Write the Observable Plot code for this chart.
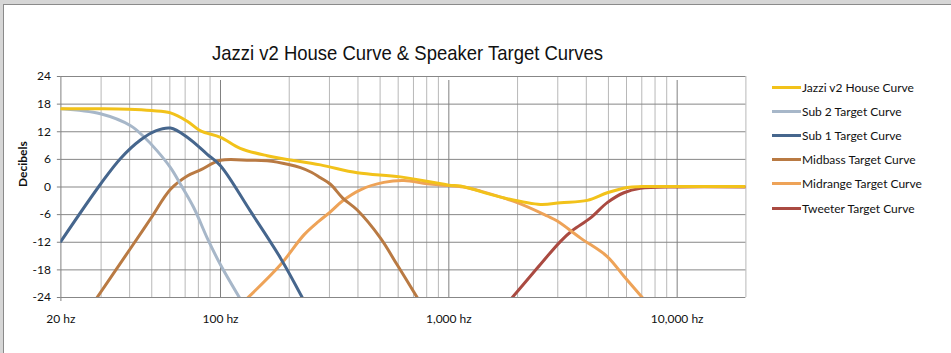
<!DOCTYPE html>
<html>
<head>
<meta charset="utf-8">
<script src="https://cdn.jsdelivr.net/npm/d3@7"></script>
<script src="https://cdn.jsdelivr.net/npm/@observablehq/plot@0.6"></script>
<style>
  html, body { margin: 0; padding: 0; background: #d6d6d6; }
  #panel { position: absolute; left: 3px; top: 4px; width: 948px; height: 349px; background: #fff;
           border-left: 1px solid #8a8a8a; border-top: 1px solid #8a8a8a; box-sizing: border-box; }
  #chart { position: absolute; left: 0; top: 0; }
  #title { position: absolute; left: 0; top: 41px; width: 815px; text-align: center;
           font-family: "Liberation Sans Narrow", "Liberation Sans", sans-serif; font-size: 21px; color: #111;
           transform: scaleX(0.88); transform-origin: 407.5px 0; }
  #legend { position: absolute; left: 772px; top: 75px; font-family: Lato, "Open Sans", sans-serif; font-size: 12px; color: #111; }
  .item { display: flex; align-items: center; height: 24.2px; }
  .swatch { width: 29px; height: 3px; margin-right: 1px; }
</style>
</head>
<body>
<div id="panel"></div>
<div id="chart"></div>
<div id="title">Jazzi v2 House Curve &amp; Speaker Target Curves</div>
<div id="legend"></div>
<script>
// Series names and colours
const seriesNames = ["Jazzi v2 House Curve", "Sub 2 Target Curve", "Sub 1 Target Curve",
  "Midbass Target Curve", "Midrange Target Curve", "Tweeter Target Curve"];
const seriesColors = ["#f2c21a", "#a7b7c9", "#46668d", "#b97a43", "#eea358", "#aa4a41"];

// Frequencies (Hz) and levels (dB)
const houseHz = [20, 30, 39.5, 50, 60.4, 71.5, 81.8, 100, 122, 160, 274, 397, 614, 1000, 1125, 1685, 2520, 3085, 4040, 4940, 6050, 7000, 10000, 20000];
const houseDb = [17, 17, 16.9, 16.6, 16.1, 14.3, 12.2, 10.8, 8.4, 6.8, 4.8, 3.1, 2.2, 0.4, 0.2, -2.2, -3.8, -3.4, -2.9, -1.25, -0.1, 0.1, 0.1, 0.1];

const sub2Hz = [20, 29.8, 40.4, 46.4, 52.8, 60.4, 66.8, 76.4, 87.5, 100, 121];
const sub2Db = [17, 15.9, 13.3, 10.8, 7.85, 4.2, 0.6, -4.5, -11.1, -16.9, -24];

const sub1Hz = [20, 29.8, 36.5, 44.6, 52, 60.4, 71.5, 87.5, 100, 135, 183, 228];
const sub1Db = [-11.8, 0.6, 6.2, 10.2, 12.2, 12.8, 10.8, 7.1, 4.6, -5.2, -15.4, -24];

const midbassHz = [28.8, 40.4, 49.4, 60.4, 71.5, 81.8, 100, 135, 160, 199, 224, 250, 274, 303, 343, 397, 502, 594, 727];
const midbassDb = [-24, -13.3, -6.9, -0.5, 2.4, 3.7, 5.8, 5.8, 5.7, 4.9, 4.2, 3.2, 2.0, 0.6, -2.4, -5.0, -11.1, -16.9, -24];

const midrangeHz = [132, 183, 232, 270, 303, 343, 410, 519, 636, 804, 1000, 1190, 1378, 1994, 2698, 2985, 3776, 4940, 5845, 7034];
const midrangeDb = [-24, -16.9, -10.4, -7.4, -5.4, -3.0, -0.6, 1.0, 1.4, 0.7, 0.3, -0.1, -0.9, -3.4, -6.3, -7.4, -11.1, -15.1, -19.4, -24];

const tweeterHz = [1896, 2440, 3085, 3474, 4177, 4940, 5845, 6900, 10000, 20000];
const tweeterDb = [-24, -17.6, -11.8, -9.45, -6.7, -3.4, -1.25, -0.3, 0, 0];

// Axis ticks
const yTicks = [-24, -18, -12, -6, 0, 6, 12, 18, 24];
const xMajor = [100, 1000, 10000];
const xMinor = [30, 40, 50, 60, 70, 80, 90, 200, 300, 400, 500, 600, 700, 800, 900,
  2000, 3000, 4000, 5000, 6000, 7000, 8000, 9000, 20000];
const xLabelValues = [20, 100, 1000, 10000];
const xLabelTexts = ["20 hz", "100 hz", "1,000 hz", "10,000 hz"];

const seriesHz = [houseHz, sub2Hz, sub1Hz, midbassHz, midrangeHz, tweeterHz];
const seriesDb = [houseDb, sub2Db, sub1Db, midbassDb, midrangeDb, tweeterDb];

const rows = [];
seriesNames.forEach((name, i) => {
  seriesHz[i].forEach((f, j) => rows.push({series: name, hz: f, db: seriesDb[i][j]}));
});

// Drawing order: tweeter/midrange beneath, house curve on top
const drawOrder = [5, 4, 3, 1, 2, 0];

const plot = Plot.plot({
  width: 951,
  height: 353,
  marginLeft: 60.4,
  marginRight: 205.6,
  marginTop: 76,
  marginBottom: 56,
  style: {background: "transparent", overflow: "visible"},
  x: {type: "log", domain: [20, 20000], axis: null},
  y: {domain: [-24, 24], axis: null},
  marks: [
    Plot.ruleX(xMinor, {stroke: "#b8b8b8", strokeWidth: 1}),
    Plot.ruleY(yTicks, {stroke: "#878787", strokeWidth: 1}),
    Plot.ruleX(xMajor, {stroke: "#808080", strokeWidth: 1, y1: -24, y2: 24, insetBottom: -4}),
    Plot.ruleX([20], {stroke: "#808080", strokeWidth: 1, insetBottom: -4}),
    Plot.ruleY(yTicks, {x1: 19.3, x2: 20, stroke: "#808080", strokeWidth: 1}),
    Plot.text(yTicks, {x: 20, y: d => d, text: d => String(d), textAnchor: "end", dx: -10,
      fontFamily: "Lato, 'Open Sans', sans-serif", fontSize: 12, fill: "#111"}),
    Plot.text(xLabelValues, {x: d => d, y: -24, text: (d, i) => xLabelTexts[i], dy: 22,
      fontFamily: "Lato, 'Open Sans', sans-serif", fontSize: 12, fill: "#111"}),
    Plot.text(["Decibels"], {frameAnchor: "left", dx: -38, rotate: -90, text: d => d,
      fontFamily: "Lato, 'Open Sans', sans-serif", fontSize: 12, fontWeight: "bold", fill: "#111"}),
    ...drawOrder.map(i => Plot.line(rows.filter(r => r.series === seriesNames[i]), {
      x: "hz", y: "db", stroke: seriesColors[i], strokeWidth: 3, curve: "catmull-rom", clip: true
    }))
  ]
});
document.getElementById("chart").appendChild(plot);

// Legend
const legend = document.getElementById("legend");
seriesNames.forEach((name, i) => {
  const item = document.createElement("div");
  item.className = "item";
  const sw = document.createElement("div");
  sw.className = "swatch";
  sw.style.background = seriesColors[i];
  const label = document.createElement("span");
  label.textContent = name;
  item.appendChild(sw);
  item.appendChild(label);
  legend.appendChild(item);
});
</script>
</body>
</html>
